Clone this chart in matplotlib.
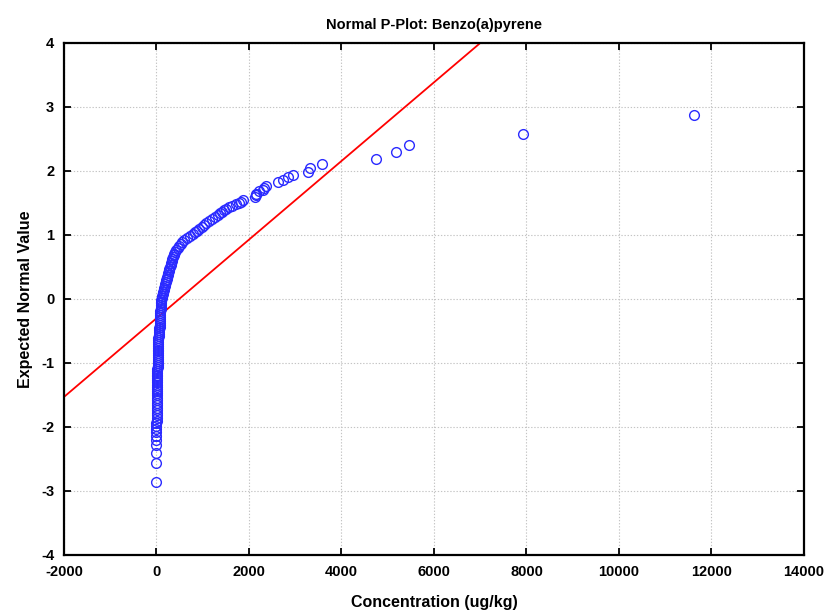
import matplotlib
matplotlib.use("Agg")
import matplotlib.pyplot as plt
import numpy as np

plt.rcParams["font.family"] = ["Liberation Sans", "DejaVu Sans"]
plt.rcParams["axes.unicode_minus"] = False

# Expected normal value (y) and concentration (x)
Y_TAIL = [-2.86, -2.57, -2.40, -2.28, -2.20, -2.14, -2.08, -2.03, -1.98, -1.94,
          -1.90, -1.86, -1.82, -1.78, -1.74, -1.70, -1.66]
X_TAIL = [-5, -5, -4, -4, -3, -3, -2, -2, 0, 0, 2, 2, 4, 5, 6, 8, 10]

Y_STACK = [-1.62, -1.58, -1.54, -1.50, -1.47, -1.44, -1.40, -1.37, -1.34, -1.30,
           -1.27, -1.24, -1.21, -1.18, -1.15, -1.12, -1.09, -1.06, -1.03, -1.00,
           -0.97, -0.94, -0.91, -0.88, -0.85, -0.82, -0.79, -0.76, -0.73, -0.70,
           -0.67, -0.64, -0.61]
X_STACK = [12, 13, 14, 15, 15, 16, 16, 17, 17, 18, 18, 19, 19, 20, 20, 21, 21,
           22, 22, 23, 23, 24, 24, 25, 25, 26, 26, 27, 28, 28, 29, 30, 31]

Y_LOW = [-0.58, -0.55, -0.52, -0.49, -0.46, -0.43, -0.40, -0.37, -0.34, -0.31,
         -0.28, -0.25, -0.22, -0.19, -0.16, -0.13, -0.10, -0.07, -0.04, -0.01]
X_LOW = [55, 58, 60, 62, 64, 66, 68, 70, 72, 75, 78, 80, 83, 86, 90, 93, 96,
         100, 104, 108]

Y_BEND = [0.02, 0.05, 0.08, 0.11, 0.14, 0.17, 0.20, 0.23, 0.26, 0.29, 0.32, 0.35,
          0.38, 0.41, 0.44, 0.47, 0.50, 0.53, 0.56, 0.59, 0.62, 0.65, 0.68]
X_BEND = [115, 125, 135, 145, 155, 165, 178, 190, 200, 210, 220, 232, 244, 256,
          268, 280, 292, 304, 316, 328, 340, 355, 370]

Y_MID = [0.71, 0.74, 0.77, 0.80, 0.83, 0.86, 0.89, 0.92, 0.95, 0.98, 1.01, 1.04,
         1.07, 1.10, 1.13, 1.16, 1.19, 1.22, 1.25, 1.28]
X_MID = [385, 405, 430, 460, 490, 525, 560, 600, 650, 720, 790, 830, 870, 920,
         980, 1030, 1080, 1130, 1200, 1260]

Y_UP = [1.31, 1.34, 1.36, 1.39, 1.41, 1.44, 1.46, 1.48, 1.50, 1.52, 1.54, 1.59,
        1.62, 1.64, 1.68, 1.71, 1.74, 1.77, 1.83, 1.86, 1.90, 1.94, 1.99, 2.04,
        2.11, 2.19, 2.29, 2.41, 2.58, 2.875]
X_UP = [1340, 1380, 1420, 1460, 1500, 1560, 1640, 1720, 1780, 1830, 1880, 2130,
        2150, 2160, 2225, 2296, 2330, 2369, 2620, 2737, 2845, 2948, 3268, 3311,
        3575, 4737, 5184, 5458, 7920, 11620]

# fitted normal line (two end points)
LINE_X = [-2000, 7000]
LINE_Y = [-1.53, 4.0]

x = np.concatenate([X_TAIL, X_STACK, X_LOW, X_BEND, X_MID, X_UP])
y = np.concatenate([Y_TAIL, Y_STACK, Y_LOW, Y_BEND, Y_MID, Y_UP])

fig = plt.figure(figsize=(8.29, 6.16), dpi=100)
ax = fig.add_axes([64 / 829, 1 - 555 / 616, 740 / 829, 512 / 616])

ax.plot(LINE_X, LINE_Y, color="#ff0000", lw=1.3, zorder=2)
ax.plot(x, y, ls="none", marker="o", ms=7.0, mfc="none", mec="#2a2aff", mew=1.0,
        zorder=3)

ax.set_xlim(-2000, 14000)
ax.set_ylim(-4, 4)
ax.set_xticks(np.arange(-2000, 14001, 2000))
ax.set_yticks(np.arange(-4, 5, 1))
ax.grid(True, color="#c4c4c4", ls=(0, (1.2, 1.6)), lw=0.8)
ax.set_axisbelow(True)
for s in ax.spines.values():
    s.set_linewidth(1.6)
ax.tick_params(direction="in", length=5, width=1.3, top=True, right=True,
               labelsize=10.5, pad=7)
for lab in ax.get_xticklabels() + ax.get_yticklabels():
    lab.set_fontweight("bold")

ax.set_title("Normal P-Plot: Benzo(a)pyrene", fontsize=10.5, fontweight="bold", pad=10)
ax.set_xlabel("Concentration (ug/kg)", fontsize=11.5, fontweight="bold", labelpad=12)
ax.set_ylabel("Expected Normal Value", fontsize=11.5, fontweight="bold", labelpad=6)

fig.savefig("out.png", dpi=100)
